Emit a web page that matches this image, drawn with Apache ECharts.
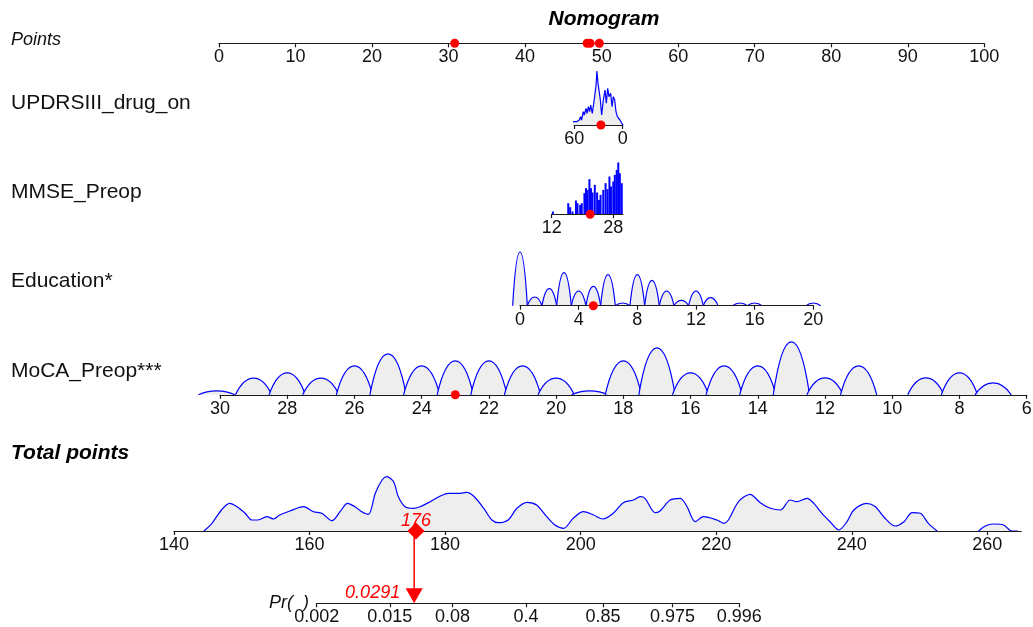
<!DOCTYPE html>
<html><head><meta charset="utf-8">
<script src="https://cdn.jsdelivr.net/npm/echarts@6/dist/echarts.min.js"></script>
<style>html,body{margin:0;padding:0;background:#fff}#c{width:1033px;height:627px}</style>
</head><body><div id="c"></div><script>
// ---------------- data ----------------
const rowLabels = ['Points', 'UPDRSIII_drug_on', 'MMSE_Preop', 'Education*', 'MoCA_Preop***', 'Total points'];
const pointsTicks = [0, 10, 20, 30, 40, 50, 60, 70, 80, 90, 100];
const pointsDots = [30.8, 48.1, 48.5, 49.7];

const updrsTicks = [60, 0];
const updrsX = [63.5, 62, 57, 55.5, 53.8, 52.2, 51, 48.8, 47.6, 45.5, 44.2, 42.6, 41, 39.7, 37.7, 35.6, 34.3, 33, 32, 30.6, 29, 27.7, 26.1, 24, 21.9, 20.3, 18.6, 17, 14.9, 13.2, 11.6, 9.9, 8.3, 6.6, 5, 3.3, 1.2, -0.5];
const updrsY = [0, 3.3, 3.3, 1.5, 5, 8.3, 5, 13.3, 10, 16.7, 11.7, 18.3, 13.3, 20, 11.7, 23.3, 31.7, 40, 54, 41.7, 40, 25, 10, 25, 35, 21.7, 36.7, 28.3, 31.7, 18.3, 28.3, 25, 13.3, 8.3, 6.7, 5, 1.7, 0];
const updrsPatient = 27;

const mmseTicks = [12, 28];
const mmseX = [12.3, 16.3, 16.8, 17.4, 18.3, 18.7, 19.4, 19.8, 20.5, 20.9, 21.3, 21.8, 22.2, 22.6, 23.2, 23.8, 24.3, 24.7, 25.4, 26.0, 26.5, 27.0, 27.4, 28.0, 28.4, 28.9, 29.3, 29.7, 30.2];
const mmseY = [2.7, 11, 7, 2.7, 13.7, 11, 9.3, 11, 21, 26, 24.3, 35, 26, 21.7, 29.3, 21.7, 14.3, 19.3, 24.3, 31, 25, 37.7, 27.7, 32.7, 39.3, 44.3, 51.7, 41, 31];
const mmsePatient = 22;

const eduTicks = [0, 4, 8, 12, 16, 20];
const eduX = [0, 1, 2, 3, 4, 5, 6, 7, 8, 9, 10, 11, 12, 13, 15, 16, 20];
const eduY = [53.7, 8.7, 17, 33, 14.7, 19.3, 31, 2.7, 31, 25.3, 14.7, 5.3, 14.7, 8, 2.7, 2.7, 2.7];
const eduPatient = 5;

const mocaTicks = [30, 28, 26, 24, 22, 20, 18, 16, 14, 12, 10, 8, 6];
const mocaX = [30.1, 29, 28, 27, 26, 25, 24, 23, 22, 21, 20, 19, 18, 17, 16, 15, 14, 13, 12, 11, 9, 8, 7];
const mocaY = [4, 16.7, 22, 16.7, 29, 41, 29, 34, 34, 29, 16.7, 4, 34, 47, 22, 29, 29, 53, 17, 29, 17, 22, 12];
const mocaPatient = 23;

const totalTicks = [140, 160, 180, 200, 220, 240, 260];
const totalX = [144.4, 145.6, 147.0, 148.2, 149.3, 150.5, 151.5, 152.4, 153.7, 154.7,
  155.6, 157.1, 159.1, 160.6, 161.8, 163.3, 164.5, 165.6, 166.7, 167.7,
  168.7, 169.7, 170.7, 171.4, 172.4, 173.1, 174.1, 175.3, 176.3, 177.8,
  179.3, 180.5, 182.0, 183.2, 184.2, 185.7, 186.9, 187.9, 189.3, 190.6,
  192.1, 193.5, 195.0, 196.2, 197.5, 198.9, 200.4, 201.9, 203.3, 204.8,
  206.3, 207.8, 208.8, 209.5, 211.0, 211.7, 213.2, 214.7, 215.7, 216.9,
  218.1, 220.1, 221.1, 221.8, 223.3, 225.0, 226.5, 228.0, 229.5, 230.9,
  231.9, 233.4, 234.4, 235.6, 236.8, 238.1, 239.3, 240.3, 242.2, 243.5,
  244.7, 246.4, 247.7, 248.9, 250.1, 251.3, 252.6];
const totalY = [0, 7.7, 21, 27.7, 24.3, 17.7, 11, 11, 14.3, 12,
  16, 20, 24.3, 19.3, 17.7, 10.3, 19.3, 27.7, 24.3, 19.3,
  16.7, 37.7, 51, 54.3, 49.3, 34.3, 24.3, 22.7, 24.3, 29.3,
  35, 37.7, 37.7, 38.7, 35, 22.7, 11, 8.3, 11, 22.7,
  28.7, 26, 14.3, 6, 2.7, 12.7, 19.3, 16, 12, 17.7,
  28.3, 31, 34.3, 32.7, 18.3, 20, 31, 32.7, 24.3, 9.3,
  14.3, 11, 7.7, 11, 29.3, 36.7, 28.3, 22.7, 21, 31,
  29.3, 32.7, 27.7, 17.7, 9.3, 1, 9.3, 21, 27.7, 24.3,
  14.3, 5, 9.3, 18.3, 17.7, 7.7, 0];
const totalTailX = [258.7, 259.7, 260.9, 262.4, 263.6, 264.5];
const totalTailY = [0, 5, 7, 6, 0, 0];
const totalPatient = 175.7;

const prTicks = [0.002, 0.015, 0.08, 0.4, 0.85, 0.975, 0.996];
const prPatient = 0.0291;

// ---------------- helpers ----------------
const FONT = '"Liberation Sans", Arial, sans-serif';
const BLUE = '#0000ff', RED = '#ff0000', FILL = '#eeeeee', INK = '#1a1a1a';
const TICK_FONT = 18;
const logit = p => Math.log(p / (1 - p));
const zip = (xs, ys) => xs.map((x, i) => [x, ys[i]]);

function grid(left, width, baseline, height) {
  return { left, width, top: baseline - height, height, outerBoundsMode: 'none', containLabel: false };
}
function xAxis(gridIndex, min, max, ticks, extra) {
  return Object.assign({
    type: 'value', gridIndex, min, max, position: 'bottom', z: 5,
    axisLine: { show: true, onZero: false, lineStyle: { color: INK, width: 1.2 } },
    axisTick: { show: true, length: 4, inside: false, customValues: ticks, lineStyle: { color: INK, width: 1.2 } },
    axisLabel: { show: true, customValues: ticks, margin: 5, color: '#111', fontSize: TICK_FONT, fontFamily: FONT, hideOverlap: false },
    splitLine: { show: false }
  }, extra || {});
}
function yAxis(gridIndex, max) {
  return { type: 'value', gridIndex, min: 0, max, show: false };
}
function dot(gi, value) {
  return { type: 'scatter', xAxisIndex: gi, yAxisIndex: gi, data: [[value, 0]], symbol: 'circle', symbolSize: 9,
    itemStyle: { color: RED, opacity: 1 }, z: 10, silent: true };
}
function bumps(gi, xs, ys, half) {
  return {
    type: 'custom', xAxisIndex: gi, yAxisIndex: gi, data: zip(xs, ys), z: 3, silent: true,
    renderItem: function (params, api) {
      const v = api.value(0), h = api.value(1);
      const a = api.coord([v - half, 0]), c = api.coord([v, h]), b = api.coord([v + half, 0]);
      const d = 'M' + a[0] + ' ' + a[1] +
        ' C' + (a[0] + (c[0] - a[0]) * 0.3) + ' ' + (a[1] + (c[1] - a[1]) * 0.7) + ' ' +
        (c[0] - (c[0] - a[0]) * 0.35) + ' ' + c[1] + ' ' + c[0] + ' ' + c[1] +
        ' C' + (c[0] + (b[0] - c[0]) * 0.35) + ' ' + c[1] + ' ' +
        (b[0] - (b[0] - c[0]) * 0.3) + ' ' + (b[1] + (c[1] - b[1]) * 0.7) + ' ' + b[0] + ' ' + b[1];
      return { type: 'path', shape: { pathData: d }, style: { fill: FILL, stroke: BLUE, lineWidth: 1.2 } };
    }
  };
}
function densityLine(gi, xs, ys, smooth) {
  return { type: 'line', xAxisIndex: gi, yAxisIndex: gi, data: zip(xs, ys), symbol: 'none', smooth: smooth,
    clip: false, lineStyle: { color: BLUE, width: 1.2 }, areaStyle: { color: FILL, opacity: 1 }, z: 3, silent: true };
}

const prMin = logit(prTicks[0]), prMax = logit(prTicks[prTicks.length - 1]);

const option = {
  animation: false,
  backgroundColor: '#fff',
  grid: [
    grid(219, 765.3, 43.3, 10),      // 0 points
    grid(574.3, 48.4, 125, 60),      // 1 UPDRS
    grid(551.7, 71.2, 214.2, 60),    // 2 MMSE
    grid(520, 293.3, 305.7, 60),     // 3 Education
    grid(220, 806.7, 394.8, 60),     // 4 MoCA
    grid(174, 847.2, 531, 60),       // 5 Total
    grid(316.7, 422.6, 603.3, 72.3)  // 6 Pr
  ],
  xAxis: [
    xAxis(0, 0, 100, pointsTicks),
    xAxis(1, 0, 60, updrsTicks, { inverse: true }),
    xAxis(2, 12, 30.5, mmseTicks),
    xAxis(3, 0, 20, eduTicks),
    xAxis(4, 6, 30, mocaTicks, { inverse: true }),
    xAxis(5, 140, 265, totalTicks),
    xAxis(6, prMin, prMax, prTicks.map(logit), {
      axisLabel: { show: true, customValues: prTicks.map(logit), margin: 5, color: '#111', fontSize: TICK_FONT, fontFamily: FONT, hideOverlap: false,
        formatter: function (v) {
          const p = 1 / (1 + Math.exp(-v));
          let best = prTicks[0];
          prTicks.forEach(t => { if (Math.abs(t - p) < Math.abs(best - p)) best = t; });
          return String(best);
        } }
    })
  ],
  yAxis: [yAxis(0, 1), yAxis(1, 60), yAxis(2, 60), yAxis(3, 60), yAxis(4, 60), yAxis(5, 60), yAxis(6, 1)],
  graphic: [
    { type: 'text', x: 604, y: 19.5, style: { text: 'Nomogram', font: 'italic bold 21px ' + FONT, fill: '#000', align: 'center', verticalAlign: 'middle' } },
    { type: 'text', x: 11, y: 39.5, style: { text: rowLabels[0], font: 'italic 18px ' + FONT, fill: '#111', verticalAlign: 'middle' } },
    { type: 'text', x: 11, y: 103.5, style: { text: rowLabels[1], font: '21px ' + FONT, fill: '#111', verticalAlign: 'middle' } },
    { type: 'text', x: 11, y: 192.5, style: { text: rowLabels[2], font: '21px ' + FONT, fill: '#111', verticalAlign: 'middle' } },
    { type: 'text', x: 11, y: 281.3, style: { text: rowLabels[3], font: '21px ' + FONT, fill: '#111', verticalAlign: 'middle' } },
    { type: 'text', x: 11, y: 371.3, style: { text: rowLabels[4], font: '21px ' + FONT, fill: '#111', verticalAlign: 'middle' } },
    { type: 'text', x: 11, y: 453.5, style: { text: rowLabels[5], font: 'italic bold 21px ' + FONT, fill: '#000', verticalAlign: 'middle' } },
    { type: 'text', x: 269, y: 603, style: { text: 'Pr(  )', font: 'italic 18px ' + FONT, fill: '#111', verticalAlign: 'middle' } }
  ],
  series: [
    { type: 'scatter', xAxisIndex: 0, yAxisIndex: 0, data: pointsDots.map(p => [p, 0]), symbolSize: 9, itemStyle: { color: RED, opacity: 1 }, z: 10, silent: true },

    densityLine(1, updrsX, updrsY, false),
    dot(1, updrsPatient),

    { type: 'bar', xAxisIndex: 2, yAxisIndex: 2, data: zip(mmseX, mmseY), barWidth: 2, itemStyle: { color: BLUE }, z: 3, silent: true },
    dot(2, mmsePatient),

    bumps(3, eduX, eduY, 0.5),
    dot(3, eduPatient),

    bumps(4, mocaX, mocaY, 0.54),
    dot(4, mocaPatient),

    densityLine(5, totalX, totalY, 0.3),
    densityLine(5, totalTailX, totalTailY, 0.3),
    { type: 'scatter', xAxisIndex: 5, yAxisIndex: 5, data: [[totalPatient, 0]], symbol: 'diamond', symbolSize: [17, 17],
      itemStyle: { color: RED, opacity: 1 }, z: 10, silent: true,
      label: { show: true, position: 'inside', offset: [0, -10], formatter: p => String(Math.round(p.value[0])),
        color: RED, fontStyle: 'italic', fontSize: 18, fontFamily: FONT, textBorderWidth: 0 } },

    { type: 'custom', xAxisIndex: 6, yAxisIndex: 6, data: [[logit(prPatient), 0, prPatient]], z: 10, silent: true,
      renderItem: function (params, api) {
        const p = api.coord([api.value(0), 0]);
        const top = params.coordSys.y;
        return { type: 'group', children: [
          { type: 'line', shape: { x1: p[0], y1: top, x2: p[0], y2: p[1] - 12 }, style: { stroke: RED, lineWidth: 1.5 } },
          { type: 'polygon', shape: { points: [[p[0] - 8.5, p[1] - 15], [p[0] + 8.5, p[1] - 15], [p[0], p[1]]] }, style: { fill: RED } },
          { type: 'text', x: p[0] - 14, y: p[1] - 10, style: { text: String(api.value(2)), align: 'right', verticalAlign: 'middle',
            font: 'italic 18px ' + FONT, fill: RED } }
        ] };
      } }
  ]
};

const chart = echarts.init(document.getElementById('c'), null, { renderer: 'canvas' });
chart.setOption(option);
</script></body></html>
